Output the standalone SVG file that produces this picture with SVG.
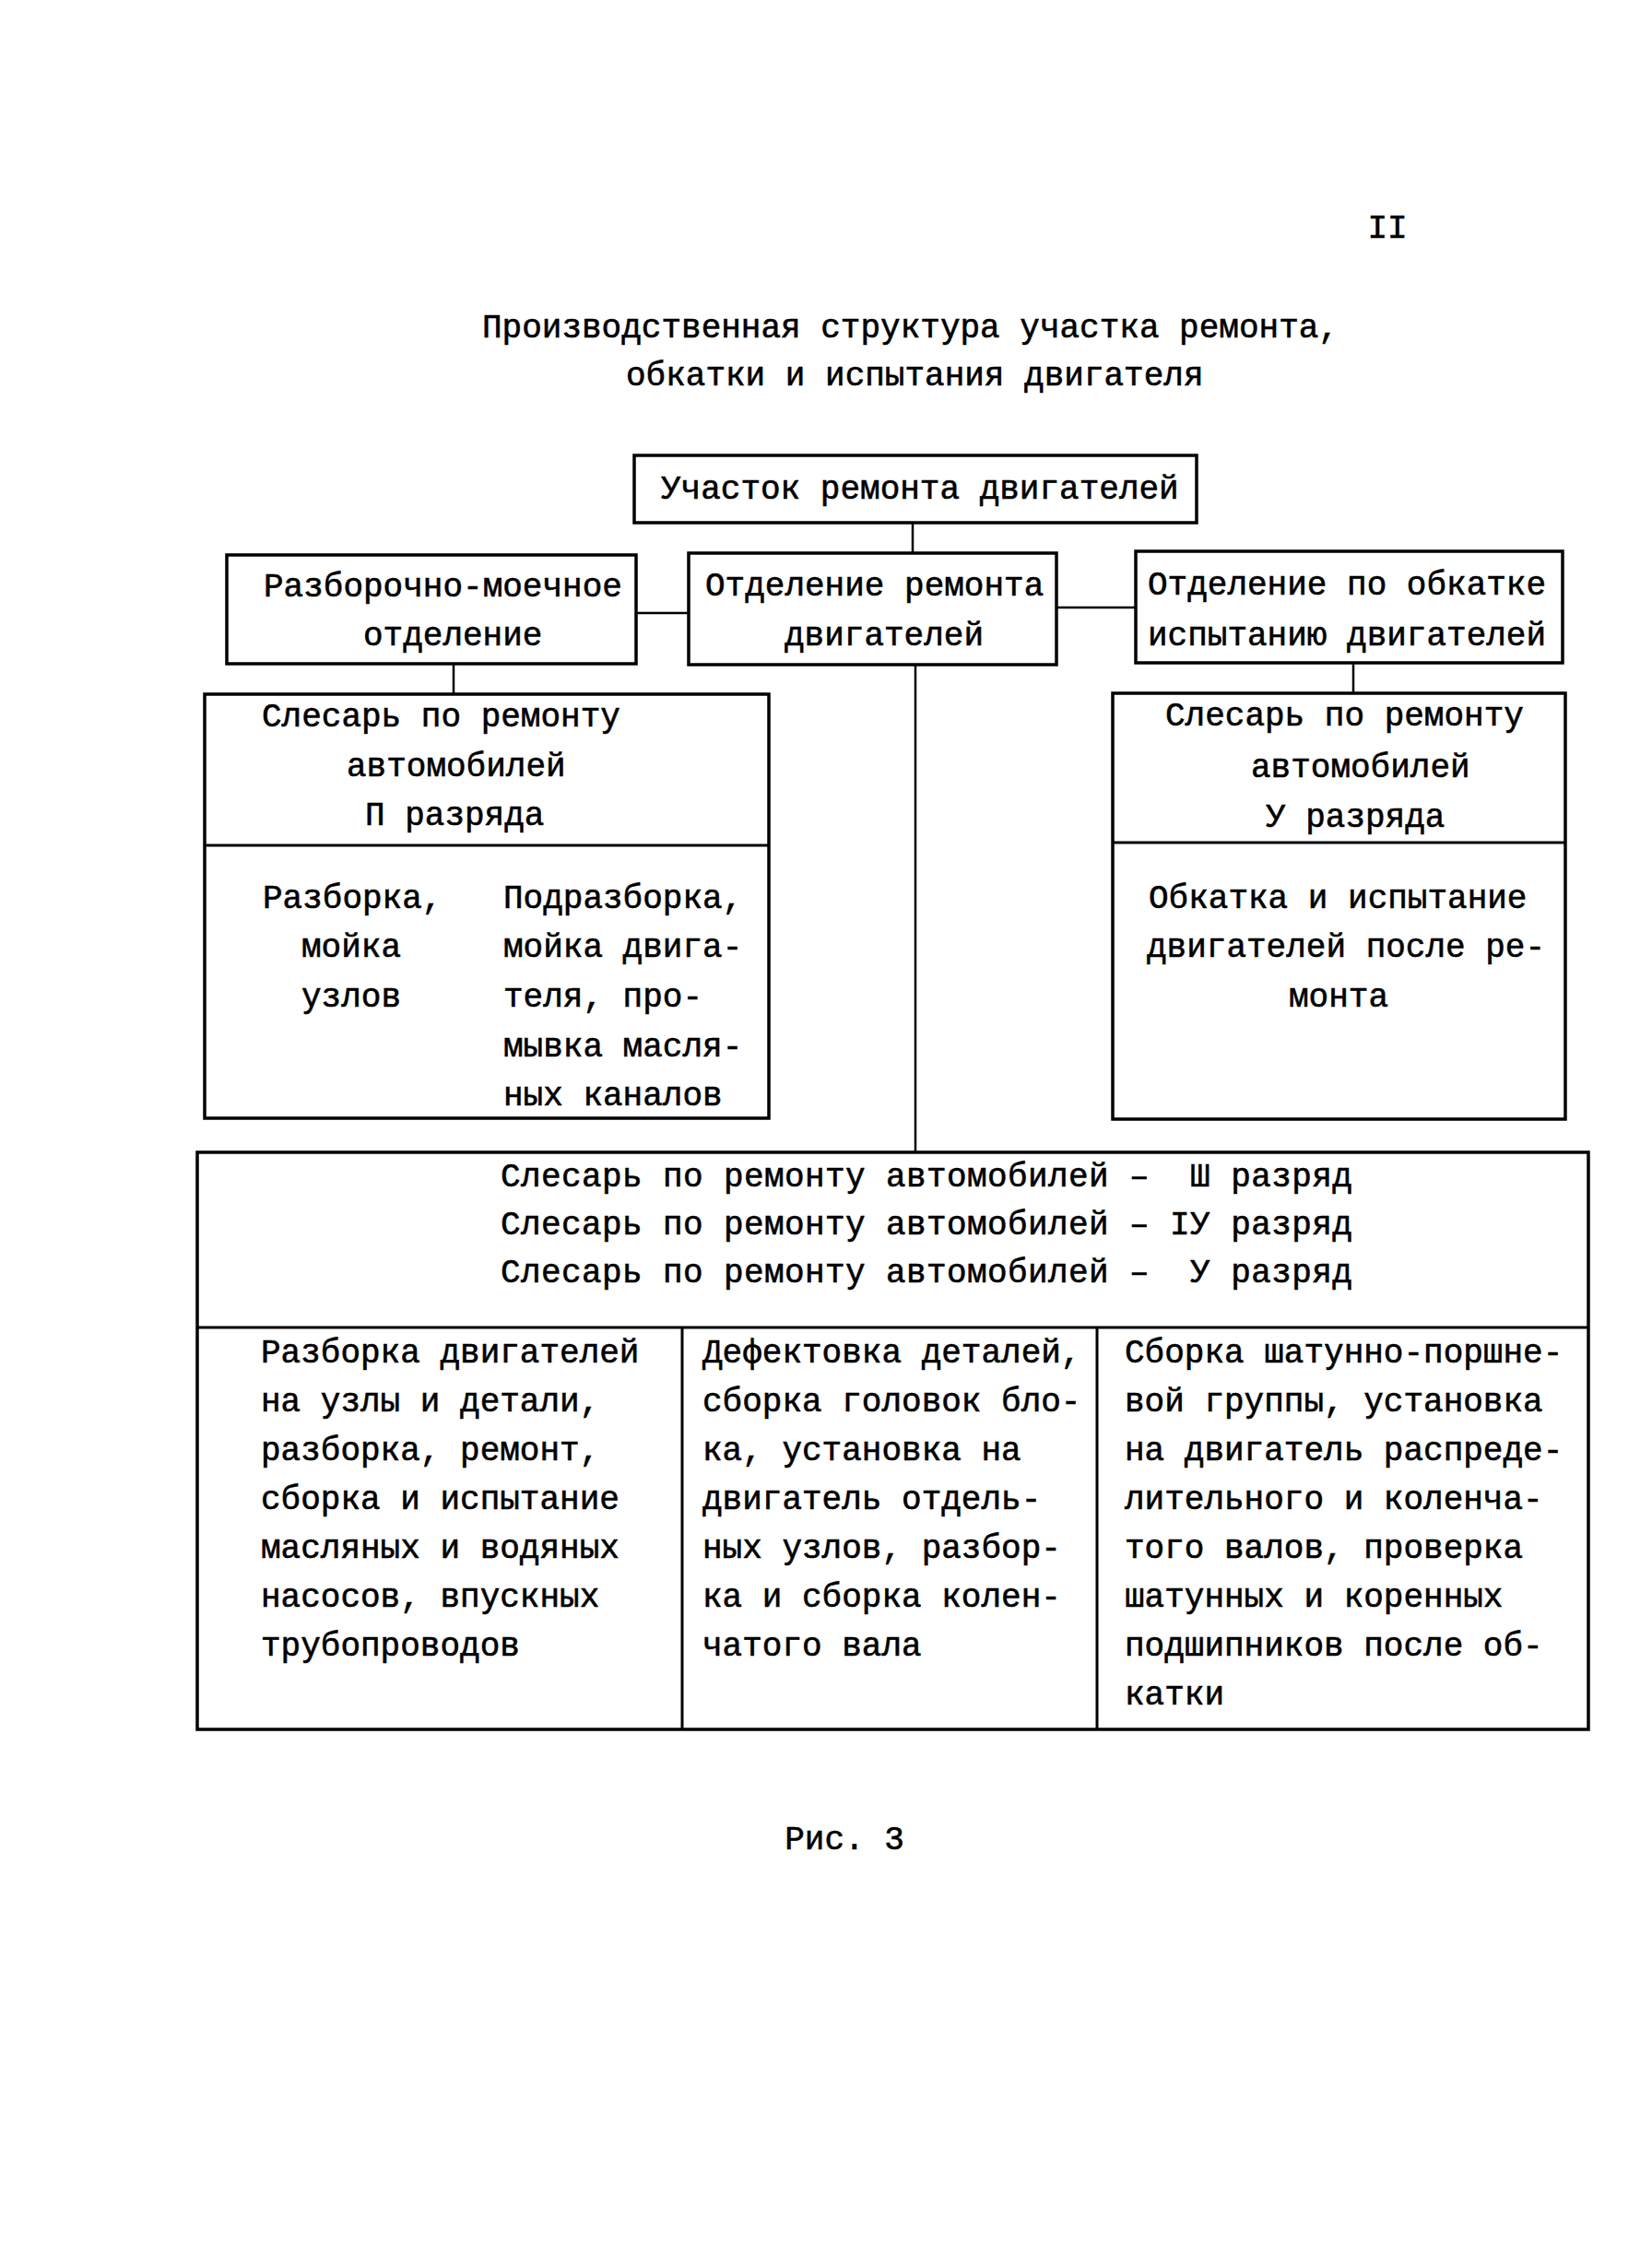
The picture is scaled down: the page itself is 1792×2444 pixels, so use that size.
<svg xmlns="http://www.w3.org/2000/svg" width="1792" height="2444" viewBox="0 0 1792 2444">
<style>
text{font-family:"Liberation Mono","Courier New","DejaVu Sans Mono",monospace;font-size:36px;fill:#000;stroke:#000;stroke-width:0.6;white-space:pre}
.box{fill:none;stroke:#000;stroke-width:3.5}
.div{fill:none;stroke:#000;stroke-width:3}
.conn{fill:none;stroke:#000;stroke-width:2.5}
.c{text-anchor:middle}
.wide{letter-spacing:0.4px}
</style>
<rect width="1792" height="2444" fill="#fff"/>
<g id="page-number"><text x="1505" y="258" class="c">II</text></g>
<g id="title">
<text x="523" y="366">Производственная структура участка ремонта,</text>
<text x="679" y="418">обкатки и испытания двигателя</text>
</g>
<g id="connectors">
<line class="conn" x1="990" y1="567" x2="990" y2="600"/>
<line class="conn" x1="690" y1="665" x2="747" y2="665"/>
<line class="conn" x1="1146" y1="659" x2="1232" y2="659"/>
<line class="conn" x1="492" y1="720" x2="492" y2="753"/>
<line class="conn" x1="993" y1="721" x2="993" y2="1250"/>
<line class="conn" x1="1468" y1="719" x2="1468" y2="752"/>
</g>
<g id="node-uchastok">
<rect class="box" x="688" y="494" width="610" height="73"/>
<text x="717" y="541">Участок ремонта двигателей</text>
</g>
<g id="node-razborochno">
<rect class="box" x="246" y="602" width="444" height="118"/>
<text x="286" y="647">Разборочно-моечное</text>
<text x="394" y="700">отделение</text>
</g>
<g id="node-otdelenie-remonta">
<rect class="box" x="747" y="600" width="399" height="121"/>
<text x="765" y="646">Отделение ремонта</text>
<text x="851" y="700">двигателей</text>
</g>
<g id="node-obkatka">
<rect class="box" x="1232" y="598" width="463" height="121"/>
<text x="1245" y="645">Отделение по обкатке</text>
<text x="1245" y="700">испытанию двигателей</text>
</g>
<g id="node-slesar-2">
<rect class="box" x="222" y="753" width="612" height="460"/>
<line class="div" x1="222" y1="917" x2="834" y2="917"/>
<text x="284" y="788">Слесарь по ремонту</text>
<text x="376" y="842">автомобилей</text>
<text x="396" y="895">П разряда</text>
<text x="285" y="985">Разборка,</text>
<text x="327" y="1038">мойка</text>
<text x="327" y="1092">узлов</text>
<text x="546" y="985">Подразборка,</text>
<text x="546" y="1038">мойка двига-</text>
<text x="546" y="1092">теля, про-</text>
<text x="546" y="1146">мывка масля-</text>
<text x="546" y="1199">ных каналов</text>
</g>
<g id="node-slesar-5">
<rect class="box" x="1207" y="752" width="491" height="462"/>
<line class="div" x1="1207" y1="914" x2="1698" y2="914"/>
<text x="1264" y="787">Слесарь по ремонту</text>
<text x="1357" y="843">автомобилей</text>
<text x="1373" y="897">У разряда</text>
<text x="1246" y="985">Обкатка и испытание</text>
<text x="1244" y="1038">двигателей после ре-</text>
<text x="1398" y="1092">монта</text>
</g>
<g id="node-slesar-3-4-5">
<rect class="box" x="214" y="1250" width="1509" height="626"/>
<line class="div" x1="214" y1="1440" x2="1723" y2="1440"/>
<line class="div" x1="740" y1="1440" x2="740" y2="1876"/>
<line class="div" x1="1190" y1="1440" x2="1190" y2="1876"/>
<text class="wide" x="543" y="1287" xml:space="preserve">Слесарь по ремонту автомобилей –  Ш разряд</text>
<text class="wide" x="543" y="1339" xml:space="preserve">Слесарь по ремонту автомобилей – IУ разряд</text>
<text class="wide" x="543" y="1391" xml:space="preserve">Слесарь по ремонту автомобилей –  У разряд</text>
<text x="283" y="1478">Разборка двигателей</text>
<text x="283" y="1531">на узлы и детали,</text>
<text x="283" y="1584">разборка, ремонт,</text>
<text x="283" y="1637">сборка и испытание</text>
<text x="283" y="1690">масляных и водяных</text>
<text x="283" y="1743">насосов, впускных</text>
<text x="283" y="1796">трубопроводов</text>
<text x="762" y="1478">Дефектовка деталей,</text>
<text x="762" y="1531">сборка головок бло-</text>
<text x="762" y="1584">ка, установка на</text>
<text x="762" y="1637">двигатель отдель-</text>
<text x="762" y="1690">ных узлов, разбор-</text>
<text x="762" y="1743">ка и сборка колен-</text>
<text x="762" y="1796">чатого вала</text>
<text x="1220" y="1478">Сборка шатунно-поршне-</text>
<text x="1220" y="1531">вой группы, установка</text>
<text x="1220" y="1584">на двигатель распреде-</text>
<text x="1220" y="1637">лительного и коленча-</text>
<text x="1220" y="1690">того валов, проверка</text>
<text x="1220" y="1743">шатунных и коренных</text>
<text x="1220" y="1796">подшипников после об-</text>
<text x="1220" y="1849">катки</text>
</g>
<g id="caption"><text x="916" y="2006" class="c">Рис. 3</text></g>
</svg>
